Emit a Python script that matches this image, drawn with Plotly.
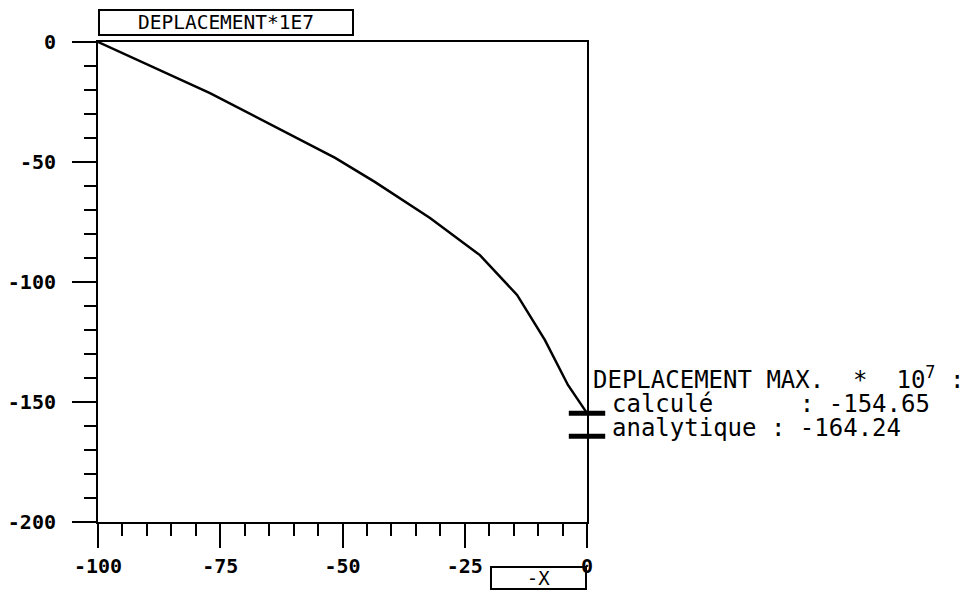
import plotly.graph_objects as go

# ---- data ----
x_pos = [-100, -77.1, -51.5, -43.4, -32.1, -21.9, -14.3, -8.6, -3.9, 0]
deplacement = [0, -21.3, -48.3, -58.3, -73.3, -88.8, -105.4, -124.2, -142.9, -154.65]
max_x = [0, 0]
max_values = [-154.65, -164.24]   # calculé, analytique

x_ticks = [-100, -75, -50, -25, 0]
y_ticks = [0, -50, -100, -150, -200]

title_text = "DEPLACEMENT*1E7"
xlabel_text = "-X"
info_line1 = "DEPLACEMENT MAX.  *  10<sup>7</sup> :"
info_line2 = "calculé      : -154.65"
info_line3 = "analytique : -164.24"

plot_font = "DejaVu Sans Mono"
text_font = "DejaVu Sans Mono"

fig = go.Figure()
fig.add_trace(go.Scatter(
    x=x_pos, y=deplacement, mode="lines",
    line=dict(color="black", width=2.5),
    showlegend=False, hoverinfo="skip",
))
fig.add_trace(go.Scatter(
    x=max_x, y=max_values, mode="markers",
    marker=dict(symbol="line-ew", size=26, color="black",
                line=dict(color="black", width=5)),
    cliponaxis=False, showlegend=False, hoverinfo="skip",
))

axis_common = dict(
    showgrid=False, zeroline=False, showline=True, linecolor="black",
    linewidth=2, mirror=True, ticks="outside", ticklen=24, tickwidth=2,
    tickcolor="black", automargin=False,
    tickfont=dict(family=plot_font, size=20, color="black", weight="bold"),
)

fig.update_xaxes(
    range=[-100, 0], tickvals=x_ticks, ticktext=[str(v) for v in x_ticks],
    minor=dict(dtick=5, ticklen=12, tickwidth=2, tickcolor="black", ticks="outside"),
    ticklabelstandoff=1,
    **axis_common,
)
fig.update_yaxes(
    range=[-200, 0], tickvals=y_ticks, ticktext=[str(v) for v in y_ticks],
    minor=dict(dtick=10, ticklen=12, tickwidth=2, tickcolor="black", ticks="outside"),
    ticklabelstandoff=12,
    **axis_common,
)

annotations = [
    dict(text=title_text, xref="x", yref="paper", x=-100, y=1.0406,
         xanchor="left", yanchor="middle", showarrow=False,
         font=dict(family=plot_font, size=19.5, color="black"),
         width=252, height=23, borderpad=0, bordercolor="black", borderwidth=2,
         align="center"),
    dict(text=xlabel_text, xref="x", yref="paper", x=0, y=-0.1167,
         xanchor="right", yanchor="middle", showarrow=False,
         font=dict(family=plot_font, size=19, color="black"),
         width=93, height=20, borderpad=0, bordercolor="black", borderwidth=2,
         align="center"),
    dict(text=info_line1, xref="paper", yref="paper", x=1.008, y=0.3,
         xanchor="left", yanchor="middle", showarrow=False, align="left",
         font=dict(family=text_font, size=24, color="black")),
    dict(text=info_line2, xref="paper", yref="paper", x=1.047, y=0.245,
         xanchor="left", yanchor="middle", showarrow=False, align="left",
         font=dict(family=text_font, size=24, color="black")),
    dict(text=info_line3, xref="paper", yref="paper", x=1.047, y=0.195,
         xanchor="left", yanchor="middle", showarrow=False, align="left",
         font=dict(family=text_font, size=24, color="black")),
]

# page body has an 8px default margin, so the figure is 8px smaller
fig.update_layout(
    width=964, height=602,
    margin=dict(l=90, r=385, t=34, b=88),
    paper_bgcolor="white", plot_bgcolor="white",
    annotations=annotations,
    showlegend=False,
)

fig.write_html("out.html")
